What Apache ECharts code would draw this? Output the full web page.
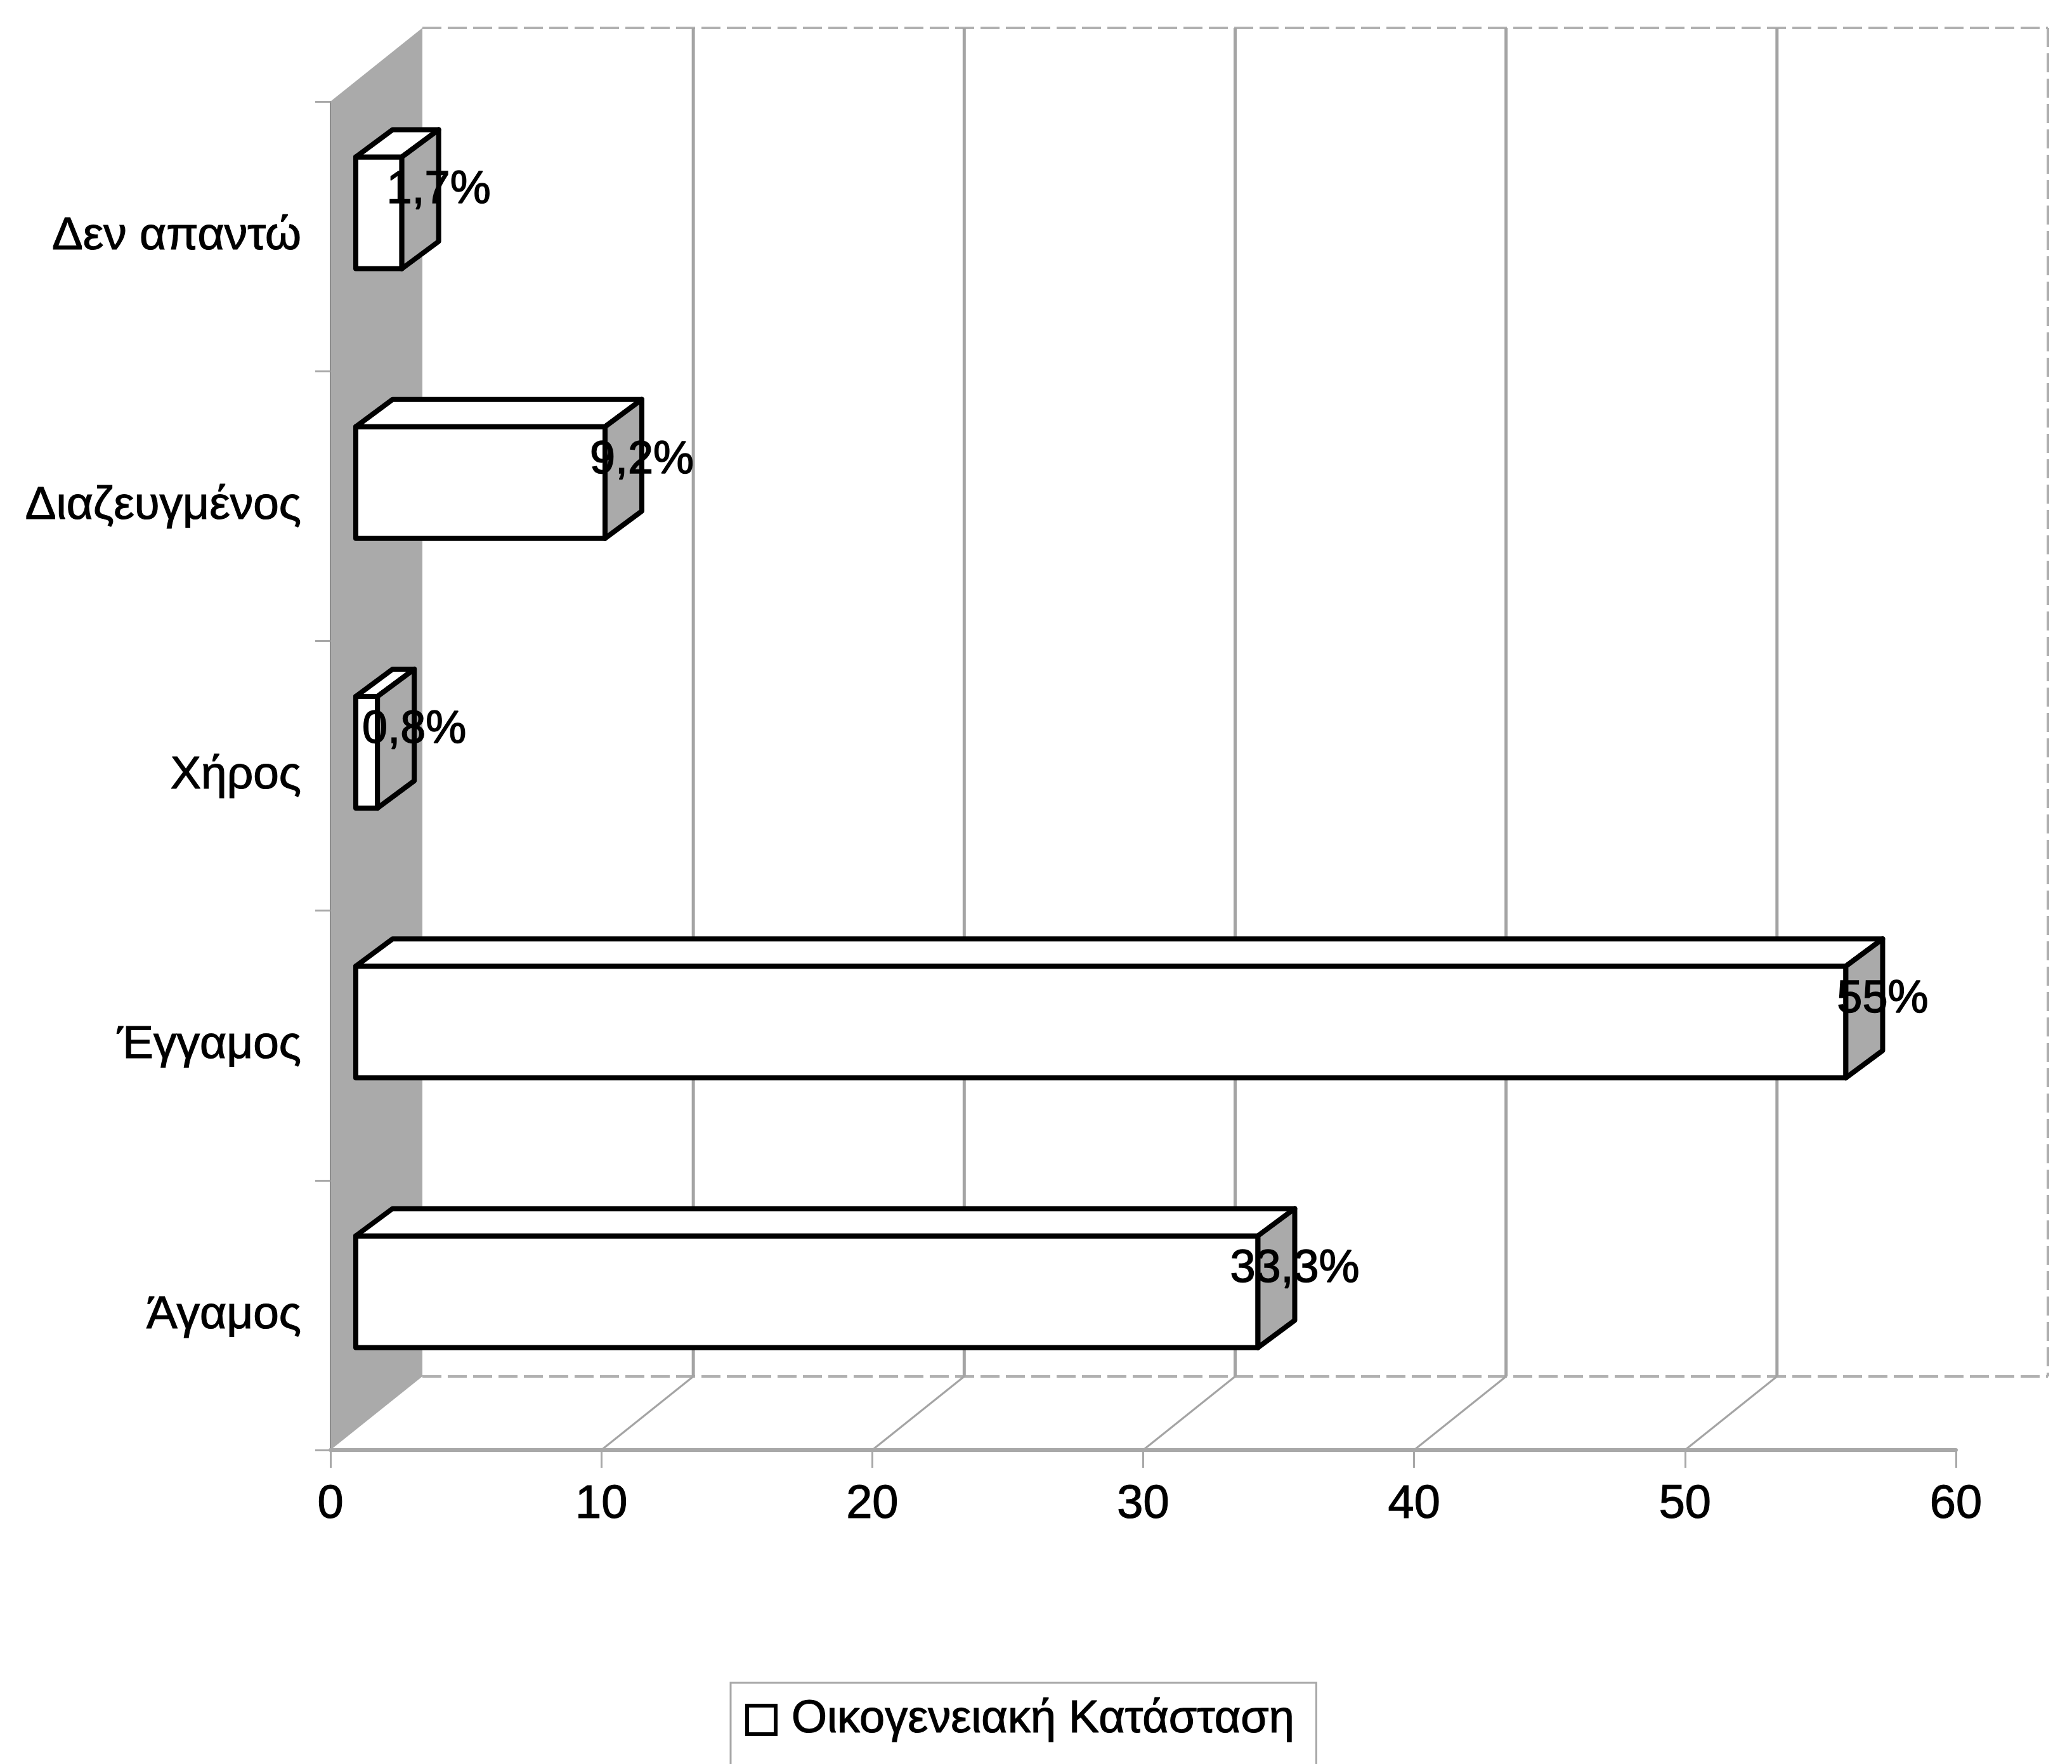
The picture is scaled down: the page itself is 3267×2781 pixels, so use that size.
<!DOCTYPE html>
<html>
<head>
<meta charset="utf-8">
<script src="https://cdn.jsdelivr.net/npm/echarts@6/dist/echarts.min.js"></script>
<style>
  html, body { margin: 0; padding: 0; background: #ffffff; }
  #chart { width: 3267px; height: 2781px; }
</style>
</head>
<body>
<div id="chart"></div>
<script>
// Marital status distribution (percent of respondents)
const categories = ['Άγαμος', 'Έγγαμος', 'Χήρος', 'Διαζευγμένος', 'Δεν απαντώ'];
const values = [33.3, 55, 0.8, 9.2, 1.7];
const xTicks = [0, 10, 20, 30, 40, 50, 60];
const seriesName = 'Οικογενειακή Κατάσταση';

const FONT = '"Liberation Sans", Arial, sans-serif';
const WALL = '#aaaaaa';
const GRID = '#a4a4a4';

// depth of the whole plot box (oblique projection)
const DEPTH = [145, -116];
// bars sit part-way into the depth
const BAR_FRONT = [40, -37];
const BAR_DEPTH = [58, -43];

function pct(v) {
  return String(v).replace('.', ',') + '%';
}

// back wall, side wall and floor of the 3D plot box
function renderFrame(params, api) {
  const n = categories.length;
  const band = api.size([0, 1])[1];
  const bot = api.coord([0, 0])[1] + band / 2;
  const top = api.coord([0, n - 1])[1] - band / 2;
  const xl = api.coord([xTicks[0], 0])[0];
  const xr = api.coord([xTicks[xTicks.length - 1], 0])[0];
  const [dx, dy] = DEPTH;
  const children = [];

  children.push({
    type: 'polygon',
    shape: { points: [[xl, top], [xl + dx, top + dy], [xl + dx, bot + dy], [xl, bot]] },
    style: { fill: WALL, stroke: null }
  });

  const dashed = { stroke: '#b0b0b0', lineWidth: 4, lineDash: [30, 10] };
  children.push({ type: 'line', shape: { x1: xl + dx, y1: top + dy, x2: xr + dx, y2: top + dy }, style: dashed });
  children.push({ type: 'line', shape: { x1: xl + dx, y1: bot + dy, x2: xr + dx, y2: bot + dy }, style: dashed });
  children.push({ type: 'line', shape: { x1: xr + dx, y1: top + dy, x2: xr + dx, y2: bot + dy }, style: dashed });

  xTicks.forEach(function (t, k) {
    if (k === 0 || k === xTicks.length - 1) return;
    const x = api.coord([t, 0])[0];
    children.push({
      type: 'line',
      shape: { x1: x + dx, y1: top + dy, x2: x + dx, y2: bot + dy },
      style: { stroke: GRID, lineWidth: 5 }
    });
    children.push({
      type: 'line',
      shape: { x1: x, y1: bot, x2: x + dx, y2: bot + dy },
      style: { stroke: GRID, lineWidth: 3 }
    });
  });

  return { type: 'group', children: children };
}

// one 3D box per category: front, top and end faces plus value label
function renderBar(params, api) {
  const v = api.value(0);
  const i = api.value(1);
  const start = api.coord([0, i]);
  const end = api.coord([v, i]);
  const h = api.size([0, 1])[1] * 0.414;
  const [fx, fy] = BAR_FRONT;
  const [dx, dy] = BAR_DEPTH;
  const x0 = start[0] + fx;
  const x1 = end[0] + fx;
  const yc = start[1] + fy;
  const t = yc - h / 2;
  const b = yc + h / 2;
  const edge = { stroke: '#000000', lineWidth: 8, lineJoin: 'round' };

  return {
    type: 'group',
    children: [
      {
        type: 'rect',
        shape: { x: x0, y: t, width: x1 - x0, height: h },
        style: Object.assign({ fill: '#ffffff' }, edge)
      },
      {
        type: 'polygon',
        shape: { points: [[x0, t], [x0 + dx, t + dy], [x1 + dx, t + dy], [x1, t]] },
        style: Object.assign({ fill: '#ffffff' }, edge)
      },
      {
        type: 'polygon',
        shape: { points: [[x1, t], [x1 + dx, t + dy], [x1 + dx, b + dy], [x1, b]] },
        style: Object.assign({ fill: WALL }, edge)
      },
      {
        type: 'text',
        z2: 10,
        style: {
          x: x1 + dx,
          y: yc - 35,
          text: pct(v),
          fill: '#000000',
          stroke: '#000000',
          lineWidth: 1.5,
          font: '72px ' + FONT,
          align: 'center',
          verticalAlign: 'middle'
        }
      }
    ]
  };
}

const chart = echarts.init(document.getElementById('chart'), null, { renderer: 'canvas' });

chart.setOption({
  backgroundColor: '#ffffff',
  animation: false,
  grid: { left: 521, right: 183, top: 160, bottom: 495, containLabel: false },
  xAxis: {
    type: 'value',
    min: xTicks[0],
    max: xTicks[xTicks.length - 1],
    interval: 10,
    z: 5,
    axisLine: { show: true, lineStyle: { color: '#a8a8a8', width: 6 } },
    axisTick: { show: true, length: 28, lineStyle: { color: '#a8a8a8', width: 3 } },
    axisLabel: {
      color: '#000000', fontSize: 74, fontFamily: FONT, margin: 50,
      textBorderColor: '#000000', textBorderWidth: 1.2
    },
    splitLine: { show: false }
  },
  yAxis: {
    type: 'category',
    data: categories,
    z: 5,
    axisLine: { show: true, lineStyle: { color: '#8c8c8c', width: 2 } },
    axisTick: { show: true, length: 24, alignWithLabel: false, lineStyle: { color: '#a8a8a8', width: 3 } },
    axisLabel: {
      color: '#000000', fontSize: 73, fontFamily: FONT, margin: 46,
      textBorderColor: '#000000', textBorderWidth: 1.2
    },
    splitLine: { show: false }
  },
  legend: {
    show: true,
    data: [seriesName],
    left: 1152,
    top: 2653,
    orient: 'horizontal',
    padding: [22, 34, 60, 23],
    borderColor: '#a8a8a8',
    borderWidth: 3,
    icon: 'rect',
    itemWidth: 45,
    itemHeight: 45,
    itemStyle: { color: '#ffffff', borderColor: '#000000', borderWidth: 6 },
    textStyle: {
      color: '#000000', fontSize: 72, fontFamily: FONT, padding: [0, 0, 0, 20],
      textBorderColor: '#000000', textBorderWidth: 1.2
    }
  },
  series: [
    {
      type: 'custom',
      name: 'frame',
      silent: true,
      z: 1,
      renderItem: renderFrame,
      data: [[0, 0]],
      encode: { x: 0, y: 1 }
    },
    {
      type: 'custom',
      name: seriesName,
      z: 3,
      itemStyle: { color: '#ffffff', borderColor: '#000000' },
      renderItem: renderBar,
      data: values.map(function (v, i) { return [v, i]; }),
      encode: { x: 0, y: 1 }
    }
  ]
});
</script>
</body>
</html>
